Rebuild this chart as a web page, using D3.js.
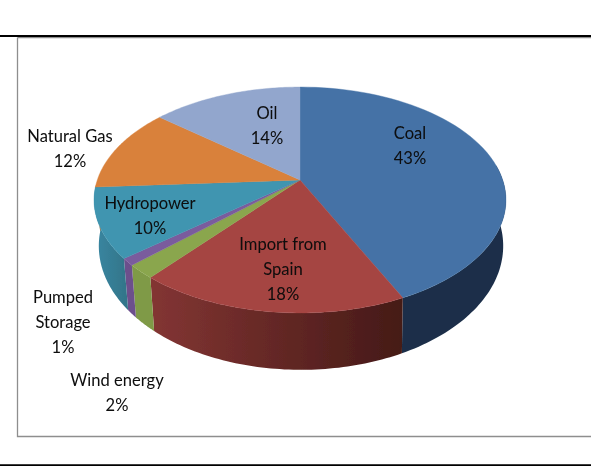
<!DOCTYPE html>
<html><head><meta charset="utf-8">
<script src="https://cdn.jsdelivr.net/npm/d3@7"></script>
<style>html,body{margin:0;background:#fff}svg{display:block}text{font-family:Lato,"Open Sans",sans-serif;font-size:17.6px;fill:#0a0a0a;text-anchor:middle}</style>
</head><body><svg id="c" width="591" height="466"></svg>
<script>
const categories = ["Coal","Import from Spain","Wind energy","Pumped Storage","Hydropower","Natural Gas","Oil"];
const values = [43,18,2,1,10,12,14];
const topColors = ["#4472a6","#a54543","#8aa64e","#7a5c9d","#3f95b0","#d9813b","#92a6cd"];
const wallFrom = ["#1b2f49","#833533","#7f9a46","#6c4f8c","#3a87a2","#d9813b","#92a6cd"];
const wallTo = ["#1b2f49","#451a17","#7f9a46","#6c4f8c","#327488","#d9813b","#92a6cd"];
const labelLines = [["Coal","43%"],["Import from","Spain","18%"],["Wind energy","2%"],["Pumped","Storage","1%"],["Hydropower","10%"],["Natural Gas","12%"],["Oil","14%"]];
const labelAnchors = [[410,139],[283,250],[117,386],[63,303],[150,209],[70,142],[267,119]];

const svg = d3.select("#c");
const defs = svg.append("defs");
defs.append("filter").attr("id","soft").append("feGaussianBlur").attr("stdDeviation",0.35);

// frame and rules
svg.append("path").attr("d","M17.5 37.5H591M17.5 37.5V436.5H591").attr("fill","none").attr("stroke","#8e8e8e").attr("stroke-width",1.3);
svg.append("path").attr("d","M0 36H591M0 465.3H591").attr("stroke","#000").attr("stroke-width",2);

// perspective disc projection
const P = 0.177;
const topDisc = {a:202.7, b:109.4, cx:300, cy:180}, baseDisc = {a:199, b:120, cx:301, cy:224};
const project = (disc, t) => {
  const u = Math.sin(t), v = -Math.cos(t), w = 1 - P * v;
  return [disc.cx + disc.a * u / w, disc.cy + disc.b * v / w];
};
const arcPts = (disc, t0, t1) => d3.range(0, 61).map(i => project(disc, t0 + (t1 - t0) * i / 60));
const line = d3.line();
const slices = d3.pie().sort(null)(values);

// walls
const wallDeg = d3.scaleLinear().domain([0,360]).range([0,2*Math.PI]);
const frontStart = wallDeg(82), backEnd = wallDeg(268);
const g = svg.append("g").attr("filter","url(#soft)");
slices.forEach((s,i) => {
  const a0 = Math.max(s.startAngle, frontStart), a1 = Math.min(s.endAngle, backEnd);
  if (a1 <= a0) return;
  const pts = arcPts(topDisc,a0,a1).concat(arcPts(baseDisc,a0,a1).reverse());
  const xs = d3.extent(pts, p => p[0]);
  const id = "w"+i;
  const gr = defs.append("linearGradient").attr("id",id).attr("gradientUnits","userSpaceOnUse")
    .attr("x1",xs[0]).attr("x2",xs[1]).attr("y1",0).attr("y2",0);
  gr.append("stop").attr("offset",0).attr("stop-color",wallFrom[i]);
  gr.append("stop").attr("offset",1).attr("stop-color",wallTo[i]);
  g.append("path").attr("d",line(pts)+"Z").attr("fill",`url(#${id})`);
});
// top faces
slices.forEach((s,i) => {
  const pts = [[topDisc.cx,topDisc.cy]].concat(arcPts(topDisc,s.startAngle,s.endAngle));
  g.append("path").attr("d",line(pts)+"Z").attr("fill",topColors[i]).attr("stroke",topColors[i]).attr("stroke-width",0.4);
});
// labels, slightly condensed like the original face
const tg = svg.append("g").attr("filter","url(#soft)");
labelLines.forEach((ls,i) => ls.forEach((t,j) => {
  tg.append("text")
    .attr("transform",`translate(${labelAnchors[i][0]},${labelAnchors[i][1]+j*25.2}) scale(0.94,1)`)
    .text(t);
}));
</script></body></html>
